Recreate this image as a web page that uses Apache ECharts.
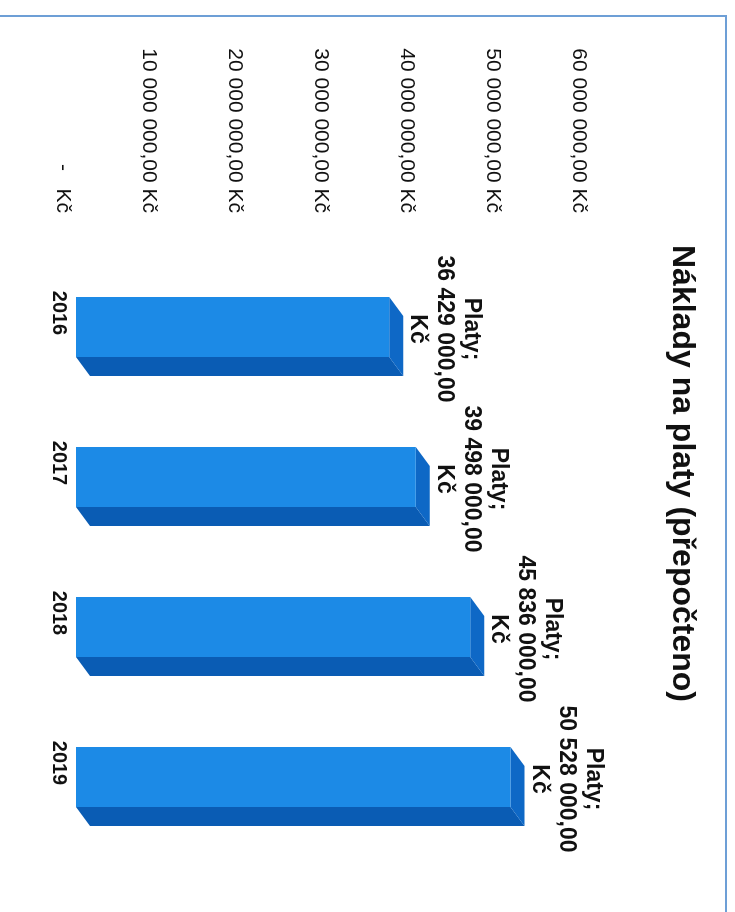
<!DOCTYPE html>
<html><head><meta charset="utf-8">
<script src="https://cdn.jsdelivr.net/npm/echarts@6/dist/echarts.min.js"></script>
<style>
html,body{margin:0;padding:0;background:#fff;width:735px;height:912px;overflow:hidden;}
#frame{position:absolute;left:727px;top:15px;width:897px;height:727px;transform-origin:0 0;transform:rotate(90deg);}
#chart{position:absolute;left:0;top:0;width:897px;height:727px;}
#border{position:absolute;left:0;top:0;width:897px;height:727px;box-sizing:border-box;border-top:2px solid #6d9fd6;border-left:2px solid #6d9fd6;pointer-events:none;}
</style></head><body>
<div id="frame"><div id="chart"></div><div id="border"></div></div>
<script>
const chartTitle = 'Náklady na platy (přepočteno)';
const seriesName = 'Platy';
const categories = ['2016', '2017', '2018', '2019'];
const values = [36429000, 39498000, 45836000, 50528000];
const axisMin = 0, axisMax = 60000000, axisStep = 10000000;

const FONT = '"Liberation Sans", Arial, sans-serif';
const FRONT = '#1c8ae6', SIDE = '#0a5cb4', TOP = '#0e68c6';

function fmtNum(v) {
  return Math.round(v).toString().replace(/\B(?=(\d{3})+(?!\d))/g, ' ') + ',00';
}

const chart = echarts.init(document.getElementById('chart'));
chart.setOption({
  backgroundColor: '#fff',
  animation: false,
  title: {
    text: chartTitle, left: 225, top: 24,
    textStyle: { fontFamily: FONT, fontWeight: 'bold', fontSize: 32, color: '#111', lineHeight: 32 }
  },
  grid: { left: 223, right: 74, top: 148, bottom: 63 },
  xAxis: {
    type: 'category', data: categories,
    axisLine: { show: false }, axisTick: { show: false },
    axisLabel: { margin: -6, fontFamily: FONT, fontWeight: 'bold', fontSize: 20, color: '#111' }
  },
  yAxis: {
    type: 'value', min: axisMin, max: axisMax, interval: axisStep,
    axisLine: { show: false }, axisTick: { show: false }, splitLine: { show: false },
    axisLabel: {
      margin: 25, fontFamily: FONT, fontSize: 21, color: '#111',
      formatter: v => v === 0 ? '-   Kč' : fmtNum(v) + ' Kč'
    }
  },
  series: [{
    type: 'custom', name: seriesName,
    data: values.map((v, i) => [i, v]),
    renderItem: function (params, api) {
      const ci = api.value(0), v = api.value(1);
      const base = api.coord([ci, 0]);
      const tp = api.coord([ci, v]);
      const band = api.size([1, 0])[0];
      const hw = band * 0.2;
      const DX = 14, DY = -13, ddx = 19, ddy = -14;
      const cx = base[0] + DX;
      const yb = base[1] + DY, yt = tp[1] + DY;
      const x0 = cx - hw, x1 = cx + hw;
      return {
        type: 'group',
        children: [
          { type: 'polygon', shape: { points: [[x1, yb], [x1, yt], [x1 + ddx, yt + ddy], [x1 + ddx, yb + ddy]] }, style: { fill: SIDE } },
          { type: 'polygon', shape: { points: [[x0, yt], [x1, yt], [x1 + ddx, yt + ddy], [x0 + ddx, yt + ddy]] }, style: { fill: TOP } },
          { type: 'rect', shape: { x: x0, y: yt, width: hw * 2, height: yb - yt }, style: { fill: FRONT } },
          { type: 'text', style: {
              text: seriesName + ';\n' + fmtNum(v) + '\nKč',
              x: cx + 2, y: yt + ddy - 1, align: 'center', verticalAlign: 'bottom',
              font: 'bold 23px ' + FONT, lineHeight: 27, fill: '#111'
          } }
        ]
      };
    }
  }]
});
</script>
</body></html>
